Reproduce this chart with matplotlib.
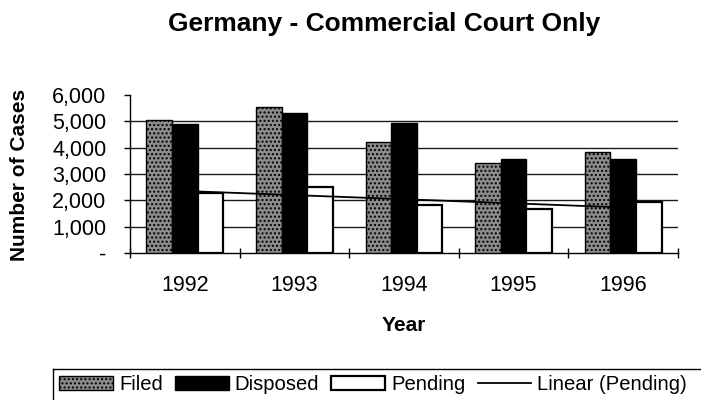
import matplotlib
matplotlib.use("Agg")
import matplotlib.pyplot as plt
from matplotlib.lines import Line2D
from matplotlib.ticker import FuncFormatter
import numpy as np

# values
years = ["1992", "1993", "1994", "1995", "1996"]
filed = [5050, 5560, 4210, 3430, 3840]
disposed = [4900, 5330, 4950, 3570, 3570]
pending = [2280, 2520, 1820, 1660, 1930]
y_ticks = [0, 1000, 2000, 3000, 4000, 5000, 6000]

plt.rcParams["font.family"] = ["Liberation Sans", "DejaVu Sans"]
plt.rcParams["hatch.linewidth"] = 1.0

W, H = 701, 400
fig = plt.figure(figsize=(W / 100, H / 100), dpi=100)

# plot area in pixels: x 130..678, y 95..253
ax = fig.add_axes([130 / W, 1 - 253 / H, (678 - 130) / W, (253 - 95) / H])

x = np.arange(len(years))
bw = 0.233

b_filed = ax.bar(x - bw, filed, bw, facecolor="#8c8c8c", edgecolor="black",
                 hatch="....", linewidth=1.0, zorder=3, label="Filed")
b_disp = ax.bar(x, disposed, bw, facecolor="black", edgecolor="black",
                linewidth=1.0, zorder=3, label="Disposed")
b_pend = ax.bar(x + bw, pending, bw, facecolor="white", edgecolor="black",
                linewidth=1.6, zorder=3, label="Pending")

# linear trendline through the pending series
k, b = np.polyfit(x, pending, 1)
trend, = ax.plot(x, k * x + b, color="black", linewidth=1.3, zorder=4,
                 label="Linear (Pending)")

ax.set_xlim(-0.5, len(years) - 0.5)
ax.set_ylim(0, 6000)

# gridlines at 1000..5000 only
for v in y_ticks[1:-1]:
    ax.axhline(v, color="#1a1a1a", linewidth=1.0, zorder=1)

for s in ["top", "right"]:
    ax.spines[s].set_visible(False)
for s in ["left", "bottom"]:
    ax.spines[s].set_linewidth(1.0)
    ax.spines[s].set_color("black")

ax.set_yticks(y_ticks)
ax.yaxis.set_major_formatter(FuncFormatter(lambda v, p: "-" if v == 0 else f"{int(v):,}"))
ax.tick_params(axis="y", direction="out", length=4, width=1, pad=13,
               labelsize=15.5)

ax.set_xticks(x)
ax.set_xticklabels(years)
ax.set_xticks(np.arange(len(years) + 1) - 0.5, minor=True)
ax.tick_params(axis="x", which="major", length=0, pad=16, labelsize=15.5)
ax.tick_params(axis="x", which="minor", direction="inout", length=7, width=1)

fig.text(384 / W, 1 - 31 / H, "Germany - Commercial Court Only",
         ha="center", va="baseline", fontsize=19, fontweight="bold")
fig.text(20 / W, 1 - 174.5 / H, "Number of Cases", rotation=90,
         ha="center", va="center", fontsize=15, fontweight="bold")
fig.text(404 / W, 1 - 331 / H, "Year", ha="center", va="baseline",
         fontsize=15, fontweight="bold")

fig.legend([b_filed, b_disp, b_pend, trend],
           ["Filed", "Disposed", "Pending", "Linear (Pending)"],
           loc="upper left", bbox_to_anchor=(53 / W, 1 - 369 / H), ncol=4,
           frameon=False, fontsize=14.6, handlelength=2.65, handleheight=0.7,
           handletextpad=0.3, columnspacing=0.6, borderpad=0.3,
           borderaxespad=0)

# legend box runs off the right and bottom edges, so only two sides show
fig.add_artist(Line2D([53 / W, 1.0], [1 - 369 / H, 1 - 369 / H],
                      transform=fig.transFigure, color="black", linewidth=1.0))
fig.add_artist(Line2D([53 / W, 53 / W], [1 - 369 / H, 0.0],
                      transform=fig.transFigure, color="black", linewidth=1.0))

fig.savefig("out.png", dpi=100)
